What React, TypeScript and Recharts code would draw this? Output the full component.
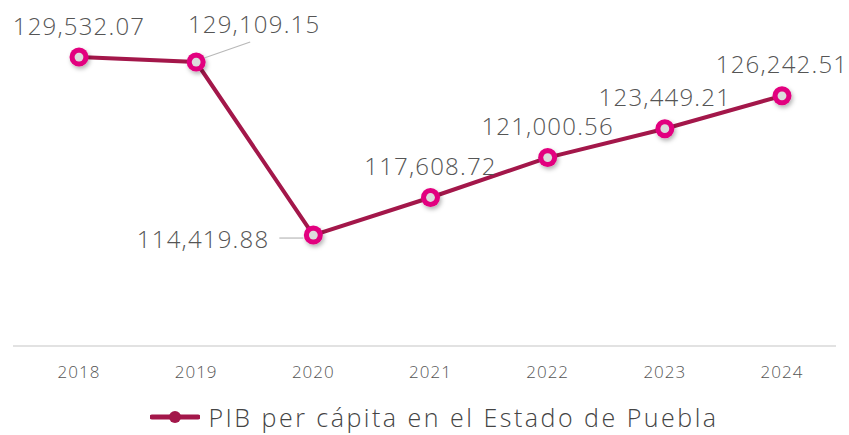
import * as React from "react";
import { LineChart, Line, XAxis, YAxis, Legend, LabelList } from "recharts";

const years = ["2018", "2019", "2020", "2021", "2022", "2023", "2024"];
const pibPerCapita = [129532.07, 129109.15, 114419.88, 117608.72, 121000.56, 123449.21, 126242.51];
const seriesName = "PIB per cápita en el Estado de Puebla";

const data = years.map((year, i) => ({ year, pib: pibPerCapita[i] }));

const LINE = "#a3174a";
const DOT = "#e2057f";
const FONT = "'Open Sans', 'Noto Sans', sans-serif";

const fmt = (v: number) =>
  v.toLocaleString("en-US", { minimumFractionDigits: 2, maximumFractionDigits: 2 });

function Marker(props: any) {
  const { cx, cy } = props;
  if (cx == null || cy == null) return null;
  return (
    <g filter="url(#dotShadow)">
      <circle cx={cx} cy={cy} r={9.5} fill={DOT} />
      <circle cx={cx} cy={cy} r={4.4} fill="#dcdcdc" />
    </g>
  );
}

function ValueLabel(props: any) {
  const { x, y, value, index } = props;
  const text = fmt(Number(value));
  const style = { fontFamily: FONT, fontSize: 24, fontWeight: 300, letterSpacing: 1.2, fill: "#555" };
  if (index === 1) {
    // leader line up-right
    return (
      <g>
        <line x1={x + 8} y1={y - 4} x2={x + 54} y2={y - 20} stroke="#b8b8b8" strokeWidth={1.2} />
        <text x={x + 58} y={y - 39} textAnchor="middle" dominantBaseline="central" {...style}>
          {text}
        </text>
      </g>
    );
  }
  if (index === 2) {
    // leader line to the left
    return (
      <g>
        <line x1={x - 10} y1={y + 3} x2={x - 34} y2={y + 3} stroke="#b8b8b8" strokeWidth={1.2} />
        <text x={x - 44} y={y + 3} textAnchor="end" dominantBaseline="central" {...style}>
          {text}
        </text>
      </g>
    );
  }
  return (
    <text x={x} y={y - 32} textAnchor="middle" dominantBaseline="central" {...style}>
      {text}
    </text>
  );
}

function LegendContent() {
  return (
    <div
      style={{
        height: 40,
        boxSizing: "border-box",
        paddingTop: 12,
        paddingLeft: 20,
        display: "flex",
        alignItems: "center",
        justifyContent: "center",
        fontFamily: FONT,
        fontSize: 25,
        fontWeight: 300,
        letterSpacing: 2.5,
        color: "#444",
      }}
    >
      <svg width={50} height={14} style={{ marginRight: 8 }}>
        <line x1={2} y1={7} x2={48} y2={7} stroke={LINE} strokeWidth={5} strokeLinecap="round" />
        <circle cx={25} cy={7} r={6} fill={LINE} />
      </svg>
      <span>{seriesName}</span>
    </div>
  );
}

export default function App() {
  return (
    <div style={{ position: "absolute", left: 0, top: 0, width: 849, height: 435, background: "#fff" }}>
      <LineChart width={849} height={435} data={data} margin={{ top: 28, right: 13, left: 13, bottom: 4 }}>
        <defs>
          <filter id="dotShadow" x="-60%" y="-60%" width="220%" height="220%">
            <feDropShadow dx={1.5} dy={2.5} stdDeviation={2} floodColor="#000" floodOpacity={0.3} />
          </filter>
        </defs>
        <XAxis
          dataKey="year"
          height={45}
          padding={{ left: 66, right: 54 }}
          axisLine={{ stroke: "#d9d9d9", strokeWidth: 1.5 }}
          tickLine={false}
          tick={{ fontFamily: FONT, fontSize: 17, fontWeight: 300, letterSpacing: 1, fill: "#555" }}
          dy={12}
        />
        <YAxis hide domain={[105000, 132000]} />
        <Legend verticalAlign="bottom" content={<LegendContent />} />
        <Line
          type="linear"
          dataKey="pib"
          name={seriesName}
          stroke={LINE}
          strokeWidth={4}
          dot={<Marker />}
          activeDot={false}
          isAnimationActive={false}
        >
          <LabelList dataKey="pib" content={<ValueLabel />} />
        </Line>
      </LineChart>
    </div>
  );
}
